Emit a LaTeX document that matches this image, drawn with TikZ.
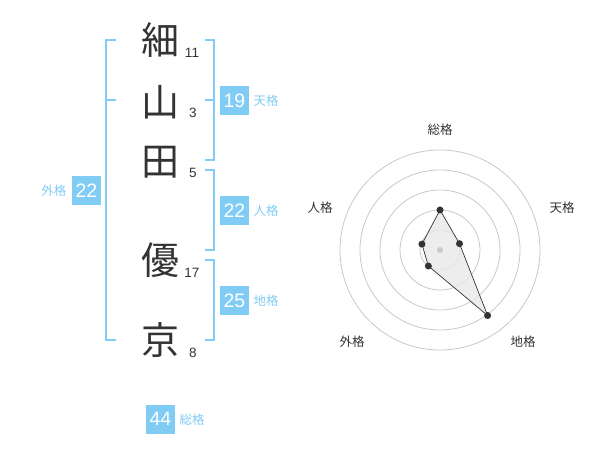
\documentclass[tikz,border=0pt]{standalone}
\usepackage{fontspec}
\setmainfont{Liberation Sans}
\newfontfamily\cjk{Noto Sans CJK JP}
\definecolor{kblue}{RGB}{128,204,245}
\definecolor{kdark}{RGB}{51,51,51}
\definecolor{kgrid}{RGB}{200,200,200}
\begin{document}
\begin{tikzpicture}[x=1pt,y=-1pt,
  kanji/.style={font=\cjk\fontsize{38}{38}\selectfont, text=kdark, inner sep=0pt},
  stroke/.style={font=\fontsize{13.5}{13.5}\selectfont, text=kdark, inner sep=0pt},
  valbox/.style={fill=kblue, text=white, minimum width=29pt, minimum height=29pt, inner sep=0pt, font=\fontsize{19.5}{19.5}\selectfont},
  vallabel/.style={font=\cjk\fontsize{12.5}{12.5}\selectfont, text=kblue, inner sep=0pt},
  bracket/.style={draw=kblue, line width=2pt},
  radlabel/.style={font=\cjk\fontsize{12.5}{12.5}\selectfont, text=kdark, inner sep=0pt},
  ring/.style={draw=kgrid, line width=0.8pt},
  pt/.style={circle, fill=kdark, inner sep=0pt, minimum size=7pt}
]
\useasboundingbox (0,0) rectangle (600,470);

% kanji
\node[kanji] (k1) at (160,40) {細};
\node[kanji] (k2) at (160,102) {山};
\node[kanji] (k3) at (160,162) {田};
\node[kanji] (k4) at (160,260) {優};
\node[kanji] (k5) at (160,340) {京};

% stroke counts
\node[stroke] (s1) at (192,53) {11};
\node[stroke] (s2) at (193,113) {3};
\node[stroke] (s3) at (193,173) {5};
\node[stroke] (s4) at (192,273) {17};
\node[stroke] (s5) at (193,353) {8};

% brackets
\draw[bracket] (116,40) -- (106,40) -- (106,340) -- (116,340);
\draw[bracket] (106,100) -- (116,100);
\draw[bracket] (205,40) -- (214,40) -- (214,160) -- (205,160);
\draw[bracket] (205,100) -- (214,100);
\draw[bracket] (205,170) -- (214,170) -- (214,250) -- (205,250);
\draw[bracket] (205,260) -- (214,260) -- (214,340) -- (205,340);

% values
\node[valbox] (v1) at (234.5,100.5) {19};
\node[vallabel] (l1) at (266,101) {天格};
\node[valbox] (v2) at (234.5,210.5) {22};
\node[vallabel] (l2) at (266,211) {人格};
\node[valbox] (v3) at (234.5,300.5) {25};
\node[vallabel] (l3) at (266,301) {地格};
\node[valbox] (v4) at (86.5,190.5) {22};
\node[vallabel] (l4) at (54,191) {外格};
\node[valbox] (v5) at (160.5,419) {44};
\node[vallabel] (l5) at (192,420) {総格};

% radar
\begin{scope}[shift={(440,250)}, yscale=-1]
  \foreach \r in {20,40,60,80,100} \draw[ring] (0,0) circle[radius=\r];
  \coordinate (p1) at (90:40);
  \coordinate (p2) at (18:20.5);
  \coordinate (p3) at (-54:81);
  \coordinate (p4) at (-126:19.8);
  \coordinate (p5) at (162:19);
  \fill[kgrid!40, opacity=0.8] (p1) -- (p2) -- (p3) -- (p4) -- (p5) -- cycle;
  \draw[kdark, line width=0.7pt] (p1) -- (p2) -- (p3) -- (p4) -- (p5) -- cycle;
  \node[circle, fill=kgrid, inner sep=0pt, minimum size=6pt] (c0) at (0,0) {};
  \foreach \p in {p1,p2,p3,p4,p5} \node[pt] at (\p) {};
  \node[radlabel] (r1) at (0,120) {総格};
  \node[radlabel] (r2) at (122,42) {天格};
  \node[radlabel] (r3) at (83,-92) {地格};
  \node[radlabel] (r4) at (-88,-92) {外格};
  \node[radlabel] (r5) at (-120,42) {人格};
\end{scope}
\end{tikzpicture}
\end{document}
